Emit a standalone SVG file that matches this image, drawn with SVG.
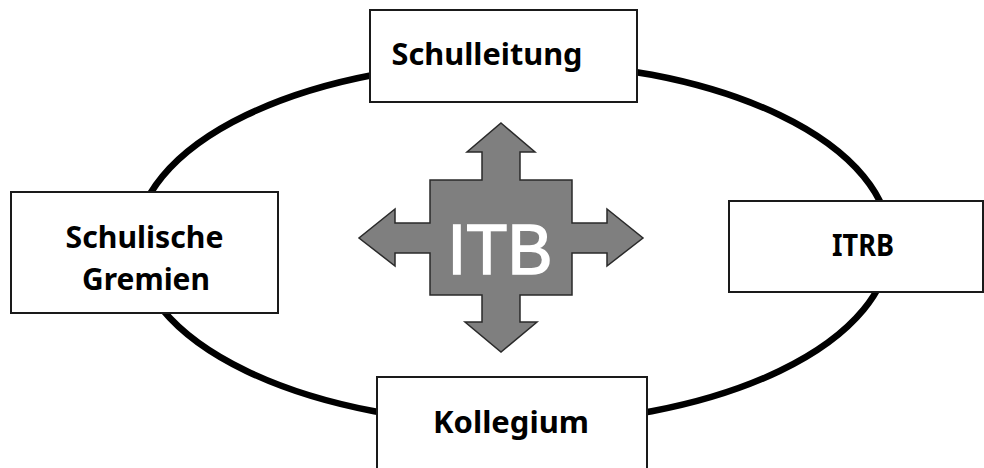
<svg xmlns="http://www.w3.org/2000/svg" width="984" height="468" viewBox="0 0 984 468">
<style>
.box{fill:#fff;stroke:#1a1a1a;stroke-width:2}
.lbl{font-family:"Noto Sans","Open Sans","Liberation Sans",sans-serif;font-weight:bold;font-size:30px;fill:#000}
.ring{fill:none;stroke:#000;stroke-width:6.5}
</style>
<rect width="984" height="468" fill="#fff"/>
<g id="connectors">
<ellipse class="ring" cx="513" cy="243" rx="377" ry="181"/>
</g>
<g id="itb">
<path d="M501,123 L535,152 L520,152 L520,180 L572,180 L572,223 L607,223 L607,209 L643,238 L607,266 L607,253 L572,253 L572,295 L520,295 L520,322 L537,322 L501,352 L465,322 L482,322 L482,295 L430,295 L430,253 L395,253 L395,266 L359,238 L395,209 L395,223 L430,223 L430,180 L482,180 L482,152 L467,152 Z" fill="#7f7f7f" stroke="#2a2a2a" stroke-width="1.5" stroke-linejoin="miter"/>
<text x="500" y="274" text-anchor="middle" font-family="Liberation Sans, Arial, sans-serif" font-size="70" fill="#fff" stroke="#fff" stroke-width="1.6" textLength="105" lengthAdjust="spacingAndGlyphs">ITB</text>
</g>
<g id="schulleitung">
<rect class="box" x="370" y="10" width="267" height="92"/>
<text class="lbl" x="487" y="65" text-anchor="middle" textLength="191" lengthAdjust="spacingAndGlyphs">Schulleitung</text>
</g>
<g id="gremien">
<rect class="box" x="11" y="192" width="267" height="121"/>
<text class="lbl" x="144.5" y="248" text-anchor="middle" textLength="158" lengthAdjust="spacingAndGlyphs">Schulische</text>
<text class="lbl" x="146" y="290" text-anchor="middle" textLength="128" lengthAdjust="spacingAndGlyphs">Gremien</text>
</g>
<g id="itrb">
<rect class="box" x="729" y="201" width="254" height="91"/>
<text class="lbl" x="863" y="256" text-anchor="middle" textLength="62" lengthAdjust="spacingAndGlyphs">ITRB</text>
</g>
<g id="kollegium">
<rect class="box" x="377" y="377" width="270" height="100"/>
<text class="lbl" x="511" y="433" text-anchor="middle" textLength="156" lengthAdjust="spacingAndGlyphs">Kollegium</text>
</g>
</svg>
